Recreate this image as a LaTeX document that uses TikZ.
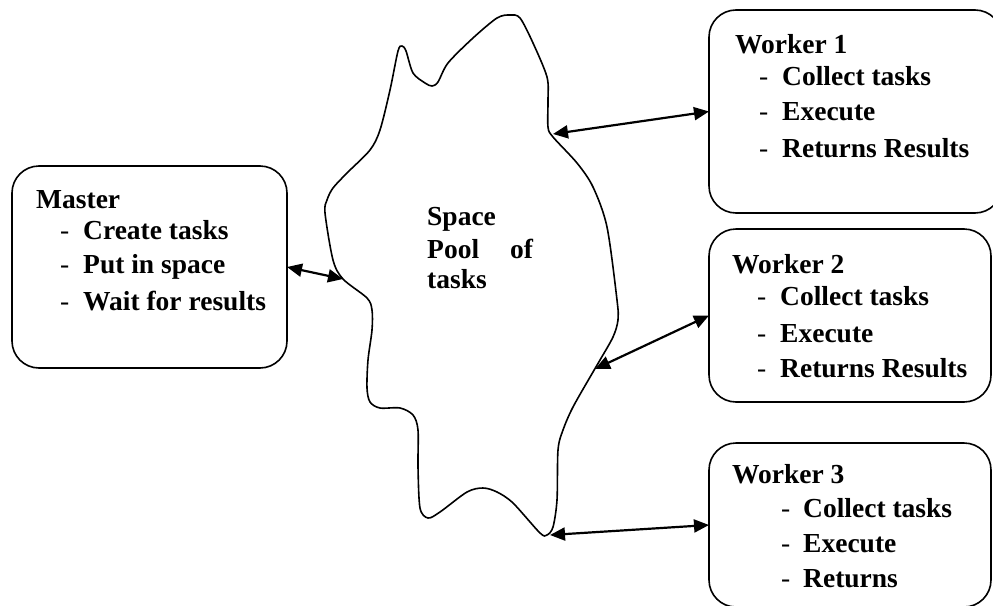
\documentclass[tikz,border=0pt]{standalone}
\usepackage{fontspec}
\setmainfont{Liberation Serif}
\usetikzlibrary{arrows.meta}
\begin{document}
\begin{tikzpicture}[x=1pt,y=-1pt,
  box/.style={draw, line width=1.6pt, rounded corners=27pt, inner sep=0pt, outer sep=0pt},
  txt/.style={anchor=base west, inner sep=0pt, font=\fontsize{27.5}{30}\selectfont\bfseries},
  dsh/.style={anchor=base west, inner sep=0pt, font=\fontsize{27.5}{30}\selectfont},
  link/.style={line width=2.2pt, {Triangle[length=15pt,width=13pt]}-{Triangle[length=15pt,width=13pt]}}]
\useasboundingbox (0,0) rectangle (993,605);
\clip (0,0) rectangle (993,605);
% boxes
\node[box, minimum width=275pt, minimum height=202pt] (master) at (149.5,267) {};
\node[box, minimum width=293pt, minimum height=203pt] (w1) at (855.5,111.5) {};
\node[box, minimum width=282pt, minimum height=173pt] (w2) at (850,315.5) {};
\node[box, minimum width=282pt, minimum height=164pt] (w3) at (850,525) {};
% cloud
\draw[line width=1.6pt] plot[smooth cycle, tension=0.5] coordinates {
 (343,279) (333,260) (325,213) (327,200) (333,188) (347,173) (370,150) (380,130)
 (390,90) (398,51) (402,46) (406,51) (413,73) (425,83) (432,86) (438,82) (448,63)
 (473,38) (497,18) (510,15) (520,18) (533,43) (547,77) (548,100) (548,127) (553,137)
 (577,163) (593,187) (607,227) (617,300) (618,320) (613,337) (600,360) (593,372)
 (573,407) (563,430) (558,450) (557,500) (553,527) (547,535) (540,533) (513,503)
 (497,492) (483,488) (467,492) (440,512) (428,518) (420,508) (418,467) (418,430)
 (413,415) (400,408) (380,408) (370,402) (367,388) (368,360) (372,330) (372,310)
 (367,298)};
\coordinate (c1) at (343,279);
\coordinate (c2) at (553,134);
\coordinate (c3) at (595,369);
\coordinate (c4) at (550,535);
% connectors
\draw[link] (master.east) -- (c1);
\draw[link] (c2) -- (w1.west);
\draw[link] (c3) -- (w2.west);
\draw[link] (c4) -- (w3.west);
% cloud text
\node[txt] (sp1) at (427,225) {Space};
\node[txt] (sp2) at (427,258) {Pool};
\node[txt] (sp3) at (510,258) {of};
\node[txt] (sp4) at (427,288) {tasks};
% master text
\node[txt] (mt) at (36,208) {Master};
\node[dsh] (md1) at (60,239) {-};
\node[txt] (mi1) at (83,239) {Create tasks};
\node[dsh] (md2) at (60,273) {-};
\node[txt] (mi2) at (83,273) {Put in space};
\node[dsh] (md3) at (60,310) {-};
\node[txt] (mi3) at (83,310) {Wait for results};
% worker 1
\node[txt] (at) at (735,53) {Worker 1};
\node[dsh] (ad1) at (759,85) {-};
\node[txt] (ai1) at (782,85) {Collect tasks};
\node[dsh] (ad2) at (759,120) {-};
\node[txt] (ai2) at (782,120) {Execute};
\node[dsh] (ad3) at (759,157) {-};
\node[txt] (ai3) at (782,157) {Returns Results};
% worker 2
\node[txt] (bt) at (732,273) {Worker 2};
\node[dsh] (bd1) at (757,305) {-};
\node[txt] (bi1) at (780,305) {Collect tasks};
\node[dsh] (bd2) at (757,342) {-};
\node[txt] (bi2) at (780,342) {Execute};
\node[dsh] (bd3) at (757,377) {-};
\node[txt] (bi3) at (780,377) {Returns Results};
% worker 3
\node[txt] (ct) at (732,483) {Worker 3};
\node[dsh] (cd1) at (781,517) {-};
\node[txt] (ci1) at (803,517) {Collect tasks};
\node[dsh] (cd2) at (781,552) {-};
\node[txt] (ci2) at (803,552) {Execute};
\node[dsh] (cd3) at (781,587) {-};
\node[txt] (ci3) at (803,587) {Returns};
\end{tikzpicture}
\end{document}
